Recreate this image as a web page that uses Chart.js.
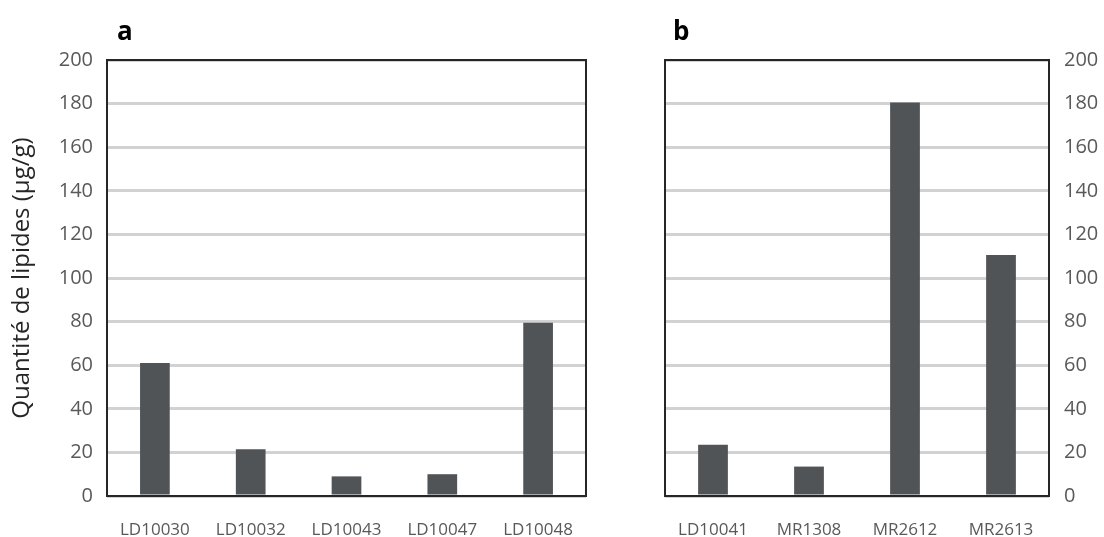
<!DOCTYPE html>
<html lang="fr">
<head>
<meta charset="utf-8">
<title>Quantité de lipides</title>
<script src="https://cdn.jsdelivr.net/npm/chart.js@4"></script>
<style>
    html, body { margin: 0; padding: 0; background: #fff; }
    #wrap { position: relative; width: 1104px; height: 537px; }
    #chartA { position: absolute; left: 0; top: 0; }
    #chartB { position: absolute; left: 620px; top: 0; }
</style>
</head>
<body>
<div id="wrap">
    <canvas id="chartA" width="620" height="537"></canvas>
    <canvas id="chartB" width="484" height="537"></canvas>
</div>
<script>
// Données (µg/g)
const echantillonsA = ['LD10030', 'LD10032', 'LD10043', 'LD10047', 'LD10048'];
const lipidesA = [61, 21.5, 9, 10, 79.5];

const echantillonsB = ['LD10041', 'MR1308', 'MR2612', 'MR2613'];
const lipidesB = [23.5, 13.5, 180.5, 110.5];

const yMin = 0;
const yMax = 200;
const yPas = 20;

const COULEUR_BARRE = '#515457';
const COULEUR_GRILLE = '#d2d2d2';
const COULEUR_TEXTE = '#595959';

Chart.defaults.font.family = '"Open Sans", sans-serif';

// Cadre noir autour de la zone du graphique
const cadrePlugin = {
    id: 'cadre',
    afterDatasetsDraw(chart) {
        const { ctx, chartArea: a } = chart;
        ctx.save();
        ctx.strokeStyle = '#262626';
        ctx.lineWidth = 2;
        ctx.strokeRect(a.left, a.top, a.right - a.left, a.bottom - a.top);
        ctx.restore();
    }
};

// Lettre du panneau (a, b)
const lettrePlugin = {
    id: 'lettre',
    afterDraw(chart, args, opts) {
        const { ctx, chartArea: a } = chart;
        ctx.save();
        ctx.font = 'bold 26px "Open Sans", sans-serif';
        ctx.fillStyle = '#000';
        ctx.textBaseline = 'alphabetic';
        ctx.fillText(opts.text, a.left + opts.dx, a.top - 20);
        ctx.restore();
    }
};

const Graphiques = {
    init() {
        this.initPanneau('chartA', echantillonsA, lipidesA, 'a', 'left');
        this.initPanneau('chartB', echantillonsB, lipidesB, 'b', 'right');
    },

    initPanneau(id, labels, valeurs, lettre, cote) {
        const ctx = document.getElementById(id);
        if (!ctx) return;
        const gauche = cote === 'left';

        new Chart(ctx, {
            type: 'bar',
            data: {
                labels: labels,
                datasets: [{
                    data: valeurs,
                    backgroundColor: COULEUR_BARRE,
                    categoryPercentage: 0.31,
                    barPercentage: 1
                }]
            },
            options: {
                responsive: false,
                animation: false,
                layout: {
                    padding: gauche
                        ? { top: 60, right: 34, bottom: 0, left: 0 }
                        : { top: 60, right: 0, bottom: 0, left: 45 }
                },
                plugins: {
                    legend: { display: false },
                    tooltip: { enabled: false },
                    lettre: { text: lettre, dx: gauche ? 10 : 8 }
                },
                scales: {
                    x: {
                        grid: { display: false },
                        border: { display: false },
                        ticks: {
                            color: COULEUR_TEXTE,
                            font: { size: 17 },
                            padding: 16,
                            autoSkip: false,
                            maxRotation: 0
                        },
                        afterFit(s) { s.height = 41; }
                    },
                    y: {
                        position: cote,
                        min: yMin,
                        max: yMax,
                        ticks: {
                            stepSize: yPas,
                            color: COULEUR_TEXTE,
                            font: { size: 20 },
                            padding: gauche ? 14 : 15
                        },
                        grid: { color: COULEUR_GRILLE, lineWidth: 3, drawTicks: false },
                        border: { display: false },
                        title: {
                            display: gauche,
                            text: 'Quantité de lipides (µg/g)',
                            color: '#262626',
                            font: { size: 24 },
                            padding: { top: 8, bottom: 0 }
                        },
                        afterFit(s) { s.width = gauche ? 107 : 55; }
                    }
                }
            },
            plugins: [cadrePlugin, lettrePlugin]
        });
    }
};

document.addEventListener('DOMContentLoaded', () => {
    Graphiques.init();
});
</script>
</body>
</html>
